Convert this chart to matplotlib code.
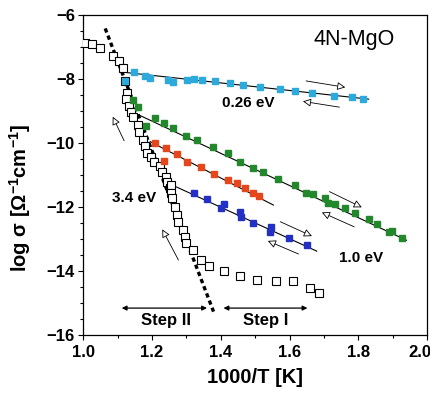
import matplotlib
matplotlib.use('Agg')
import matplotlib.pyplot as plt
import matplotlib.transforms as mtransforms
import numpy as np

plt.rcParams['font.family'] = ['Liberation Sans', 'DejaVu Sans']
plt.rcParams['mathtext.fontset'] = 'custom'
plt.rcParams['mathtext.bf'] = 'Liberation Sans:bold'
plt.rcParams['mathtext.rm'] = 'Liberation Sans'

# open squares (step measurement)
open_x = [1.006, 1.027, 1.049, 1.088, 1.103, 1.117, 1.122, 1.127, 1.124, 1.134, 1.139,
          1.146, 1.158, 1.161, 1.175, 1.180, 1.187, 1.197, 1.207, 1.222, 1.229, 1.241,
          1.245, 1.253, 1.256, 1.256, 1.258, 1.267, 1.272, 1.277, 1.290, 1.297, 1.299,
          1.319, 1.344, 1.367, 1.408, 1.456, 1.506, 1.561, 1.611, 1.660, 1.686]
open_y = [-6.87, -6.92, -7.04, -7.28, -7.44, -7.67, -8.06, -8.43, -8.64, -8.84, -9.02,
          -9.18, -9.44, -9.65, -9.91, -10.08, -10.32, -10.45, -10.58, -10.71, -10.90, -11.05,
          -11.21, -11.40, -11.31, -11.55, -11.73, -11.99, -12.25, -12.46, -12.72, -12.93, -13.13,
          -13.36, -13.66, -13.86, -13.99, -14.15, -14.28, -14.30, -14.30, -14.52, -14.70]

cyan_x = [1.122, 1.148, 1.180, 1.195, 1.248, 1.261, 1.301, 1.321, 1.345, 1.384, 1.427,
          1.466, 1.515, 1.573, 1.616, 1.665, 1.728, 1.781, 1.815]
cyan_y = [-8.06, -7.77, -7.91, -7.98, -8.03, -8.08, -8.03, -8.01, -8.03, -8.06, -8.14,
          -8.19, -8.26, -8.32, -8.37, -8.43, -8.52, -8.57, -8.62]

green_x = [1.144, 1.158, 1.182, 1.209, 1.235, 1.262, 1.299, 1.331, 1.376, 1.421, 1.456,
           1.494, 1.522, 1.567, 1.616, 1.648, 1.669, 1.702, 1.713, 1.733, 1.762, 1.791,
           1.830, 1.854, 1.888, 1.897, 1.926]
green_y = [-8.66, -8.86, -9.47, -9.23, -9.38, -9.52, -9.77, -9.91, -10.11, -10.32, -10.58,
           -10.79, -10.90, -11.12, -11.31, -11.57, -11.60, -11.73, -11.89, -11.92, -12.04, -12.20,
           -12.39, -12.53, -12.77, -12.74, -12.98]

red_x = [1.209, 1.241, 1.235, 1.272, 1.301, 1.342, 1.379, 1.420, 1.447, 1.471, 1.495, 1.512]
red_y = [-10.01, -10.17, -10.55, -10.35, -10.60, -10.74, -10.97, -11.16, -11.24, -11.40, -11.55, -11.65]

blue_x = [1.321, 1.360, 1.400, 1.410, 1.456, 1.458, 1.495, 1.544, 1.546, 1.597, 1.652]
blue_y = [-11.57, -11.75, -12.02, -11.92, -12.15, -12.30, -12.50, -12.77, -12.62, -12.98, -13.19]

# fitted lines (start/end)
fit_lines = {
    'cyan': ([1.127, 1.830], [-7.80, -8.63]),
    'green': ([1.161, 1.940], [-9.12, -13.04]),
    'red': ([1.195, 1.553], [-9.96, -11.94]),
    'blue': ([1.258, 1.679], [-11.31, -13.38]),
}
step_line_x = [1.064, 1.379]
step_line_y = [-6.42, -15.27]

# heating / cooling arrows: (start, end)
arrows = [
    ((1.648, -8.06), (1.762, -8.26)),
    ((1.745, -8.88), (1.639, -8.70)),
    ((1.716, -11.52), (1.810, -12.01)),
    ((1.788, -12.62), (1.694, -12.17)),
    ((1.573, -12.46), (1.665, -12.91)),
    ((1.626, -13.47), (1.537, -13.06)),
    ((1.119, -9.93), (1.086, -9.18)),
    ((1.277, -13.66), (1.230, -12.70)),
]

C_CYAN = '#2EA9DC'
C_GREEN = '#23882C'
C_RED = '#E5461C'
C_BLUE = '#2430C4'

fig = plt.figure(figsize=(4.31, 3.95), dpi=100)
ax = fig.add_axes([0.193, 0.152, 0.798, 0.810])

ax.plot(step_line_x, step_line_y, color='black', lw=2.4, ls=(0, (1.3, 1.0)), zorder=2)
for xs, ys in fit_lines.values():
    ax.plot(xs, ys, color='black', lw=0.8, zorder=2)

ax.plot(open_x, open_y, 's', ms=6.2, mfc='white', mec='black', mew=0.8, ls='none', zorder=3)
ax.plot(cyan_x, cyan_y, 's', ms=4.2, color=C_CYAN, ls='none', zorder=4)
ax.plot(green_x, green_y, 's', ms=5, color=C_GREEN, ls='none', zorder=4)
ax.plot(red_x, red_y, 's', ms=5, color=C_RED, ls='none', zorder=4)
ax.plot(blue_x, blue_y, 's', ms=5, color=C_BLUE, ls='none', zorder=4)

for (x0, y0), (x1, y1) in arrows:
    ax.annotate('', xy=(x1, y1), xytext=(x0, y0),
                arrowprops=dict(arrowstyle='-|>', fc='white', ec='black', lw=0.6,
                                mutation_scale=12, shrinkA=0, shrinkB=0))

# step range arrows
ax.annotate('', xy=(1.112, -15.16), xytext=(1.360, -15.16),
            arrowprops=dict(arrowstyle='<|-|>', color='black', lw=0.9,
                            mutation_scale=7, shrinkA=0, shrinkB=0))
ax.annotate('', xy=(1.408, -15.16), xytext=(1.652, -15.16),
            arrowprops=dict(arrowstyle='<|-|>', color='black', lw=0.9,
                            mutation_scale=7, shrinkA=0, shrinkB=0))
ax.text(1.241, -15.55, 'Step II', ha='center', va='center', fontsize=12, fontweight='bold')
ax.text(1.532, -15.55, 'Step I', ha='center', va='center', fontsize=12, fontweight='bold')

ax.text(1.148, -11.73, '3.4 eV', ha='center', va='center', fontsize=11, fontweight='bold')
ax.text(1.479, -8.76, '0.26 eV', ha='center', va='center', fontsize=11, fontweight='bold')
ax.text(1.807, -13.60, '1.0 eV', ha='center', va='center', fontsize=11, fontweight='bold')
ax.text(1.788, -6.78, '4N-MgO', ha='center', va='center', fontsize=15.5)

ax.set_xlim(1.0, 2.0)
ax.set_ylim(-16, -6)
ax.set_xticks(np.arange(1.0, 2.01, 0.2))
ax.set_xticks(np.arange(1.0, 2.01, 0.1), minor=True)
ax.set_yticks(np.arange(-16, -5.9, 2))
ax.set_yticks(np.arange(-16, -5.9, 0.5), minor=True)
ax.set_xticklabels([f'{v:.1f}' for v in np.arange(1.0, 2.01, 0.2)])
ax.tick_params(which='both', direction='out', labelsize=12, width=0.8)
ax.tick_params(which='major', length=3.5)
ax.tick_params(which='minor', length=2)
ax.tick_params(axis='x', pad=4)
ax.tick_params(axis='y', pad=2.5)
for lab in ax.get_xticklabels() + ax.get_yticklabels():
    lab.set_fontweight('bold')
for sp in ax.spines.values():
    sp.set_linewidth(0.9)

# keep the last x tick label inside the canvas
last = ax.get_xticklabels()[-1]
last.set_transform(last.get_transform() +
                   mtransforms.ScaledTranslation(-0.07, 0, fig.dpi_scale_trans))

ax.set_xlabel('1000/T [K]', fontsize=14.5, fontweight='bold', va='center')
ax.xaxis.set_label_coords(0.5, -0.134)
ax.set_ylabel('log \u03c3 [\u03a9$^{\\mathbf{-1}}$cm$^{\\mathbf{-1}}$]', fontsize=14.5,
              fontweight='bold', va='center')
ax.yaxis.set_label_coords(-0.185, 0.43)

fig.savefig('out.png', dpi=100)
